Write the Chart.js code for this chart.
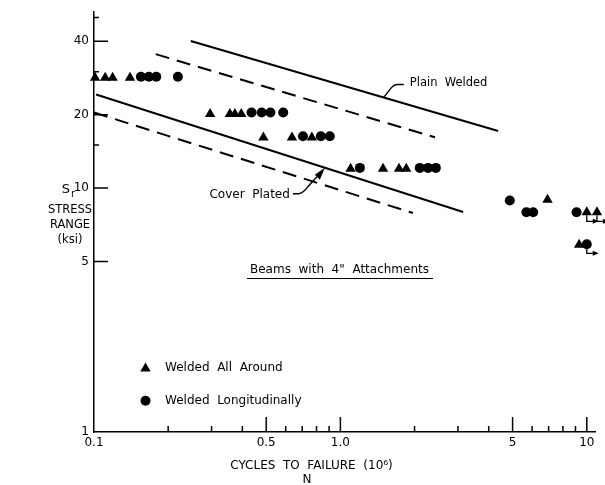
<!DOCTYPE html>
<html>
<head>
<meta charset="utf-8">
<script src="https://cdn.jsdelivr.net/npm/chart.js@4.4.0/dist/chart.umd.min.js"></script>
<style>
  html, body { margin: 0; background: #fff; }
</style>
</head>
<body>
<canvas id="c" width="605" height="485"></canvas>
<script>
// welded all around (triangles), N in 10^6 cycles, Sr in ksi
const aroundX = [0.101, 0.111, 0.119, 0.140, 0.296, 0.356, 0.373, 0.396, 0.487, 0.636, 0.766, 1.10, 1.49, 1.73, 1.85, 6.93, 10.0, 11.0, 9.31];
const aroundY = [28.3, 28.3, 28.3, 28.3, 20.1, 20.1, 20.1, 20.1, 16.1, 16.1, 16.1, 12.0, 12.0, 12.0, 12.0, 8.95, 7.95, 7.95, 5.85];
// welded longitudinally (circles)
const longX = [0.155, 0.167, 0.179, 0.219, 0.436, 0.479, 0.520, 0.586, 0.705, 0.833, 0.906, 1.20, 2.10, 2.27, 2.44, 4.87, 5.69, 6.06, 9.09, 10.0];
const longY = [28.6, 28.6, 28.6, 28.6, 20.4, 20.4, 20.4, 20.4, 16.3, 16.3, 16.3, 12.1, 12.1, 12.1, 12.1, 8.9, 7.96, 7.96, 7.96, 5.88];
// run-outs (no failure)
const runoutX = [10.0, 11.0, 10.0];
const runoutY = [7.95, 7.95, 5.88];

// design lines
const plainX = [0.247, 4.37], plainY = [40.1, 17.15];
const plainDashX = [0.178, 2.42], plainDashY = [35.4, 16.15];
const coverX = [0.102, 3.15], coverY = [24.2, 7.98];
const coverDashX = [0.1, 1.97], coverDashY = [20.4, 7.9];

// axes
const xTicks = [0.1, 0.5, 1, 5, 10];
const xTickLabels = ['0.1', '0.5', '1.0', '5', '10'];
const xMinor = [0.2, 0.3, 0.4, 0.6, 0.7, 0.8, 0.9, 2, 3, 4, 6, 7, 8, 9];
const yTicks = [1, 5, 10, 20, 40];
const yTickLabels = ['1', '5', '10', '20', '40'];
const yMinor = [15, 30, 50];

const pts = (xs, ys) => xs.map((x, i) => ({ x, y: ys[i] }));
const FONT = '"DejaVu Sans", sans-serif';

// y on a design line at x (straight in log-log)
function onLine(xs, ys, x) {
    const t = (Math.log(x) - Math.log(xs[0])) / (Math.log(xs[1]) - Math.log(xs[0]));
    return Math.exp(Math.log(ys[0]) + t * (Math.log(ys[1]) - Math.log(ys[0])));
}

const decor = {
    id: 'decor',
    afterDatasetsDraw(chart) {
        const { ctx, chartArea: a } = chart;
        const sx = chart.scales.x, sy = chart.scales.y;
        ctx.save();
        ctx.strokeStyle = '#000';
        ctx.fillStyle = '#000';

        // inward tick marks
        ctx.lineWidth = 1.5;
        ctx.beginPath();
        yTicks.slice(1).forEach(v => {
            const p = sy.getPixelForValue(v);
            ctx.moveTo(a.left, p); ctx.lineTo(a.left + 14, p);
        });
        yMinor.forEach(v => {
            const p = sy.getPixelForValue(v);
            ctx.moveTo(a.left, p); ctx.lineTo(a.left + 5, p);
        });
        xTicks.slice(1).forEach(v => {
            const p = sx.getPixelForValue(v);
            ctx.moveTo(p, a.bottom); ctx.lineTo(p, a.bottom - 15);
        });
        xMinor.forEach(v => {
            const p = sx.getPixelForValue(v);
            ctx.moveTo(p, a.bottom); ctx.lineTo(p, a.bottom - 6);
        });
        ctx.stroke();

        // run-out arrows
        ctx.lineWidth = 1.3;
        runoutX.forEach((v, i) => {
            const px = sx.getPixelForValue(v), py = sy.getPixelForValue(runoutY[i]);
            ctx.beginPath();
            ctx.moveTo(px, py + 3); ctx.lineTo(px, py + 9); ctx.lineTo(px + 8, py + 9);
            ctx.stroke();
            ctx.beginPath();
            ctx.moveTo(px + 12, py + 9); ctx.lineTo(px + 6, py + 6.5); ctx.lineTo(px + 6, py + 11.5);
            ctx.closePath(); ctx.fill();
        });

        // "Plain Welded" leader
        const pAx = sx.getPixelForValue(1.5), pAy = sy.getPixelForValue(onLine(plainX, plainY, 1.5));
        ctx.lineWidth = 1.4;
        ctx.beginPath();
        ctx.moveTo(pAx, pAy);
        ctx.lineTo(pAx + 7, pAy - 9);
        ctx.quadraticCurveTo(pAx + 10, pAy - 13, pAx + 14, pAy - 13);
        ctx.lineTo(pAx + 20, pAy - 13);
        ctx.stroke();
        ctx.font = '11.5px ' + FONT;
        ctx.textBaseline = 'middle';
        ctx.textAlign = 'left';
        ctx.fillText('Plain  Welded', pAx + 26, pAy - 14);

        // "Cover Plated" leader with arrow
        const cAx = sx.getPixelForValue(0.865), cAy = sy.getPixelForValue(onLine(coverX, coverY, 0.865));
        ctx.beginPath();
        ctx.moveTo(cAx - 32, cAy + 26);
        ctx.lineTo(cAx - 26, cAy + 26);
        ctx.quadraticCurveTo(cAx - 21, cAy + 25, cAx - 17, cAy + 19);
        ctx.lineTo(cAx - 8, cAy + 9);
        ctx.stroke();
        ctx.beginPath();
        ctx.moveTo(cAx, cAy);
        ctx.lineTo(cAx - 10, cAy + 7);
        ctx.lineTo(cAx - 5, cAy + 12);
        ctx.closePath(); ctx.fill();
        ctx.font = '12px ' + FONT;
        ctx.textAlign = 'right';
        ctx.fillText('Cover  Plated', cAx - 35, cAy + 27);

        // title, underlined
        ctx.textAlign = 'center';
        ctx.fillText('Beams  with  4"  Attachments', 339.5, 269.5);
        ctx.lineWidth = 1.2;
        ctx.beginPath(); ctx.moveTo(247, 278.5); ctx.lineTo(433, 278.5); ctx.stroke();

        // legend
        Chart.helpers.drawPoint(ctx, { pointStyle: 'triangle', radius: 6, rotation: 0, borderWidth: 0 }, 145.5, 368.5);
        Chart.helpers.drawPoint(ctx, { pointStyle: 'circle', radius: 5, rotation: 0, borderWidth: 0 }, 145.5, 400.7);
        ctx.textAlign = 'left';
        ctx.fillText('Welded  All  Around', 165, 367.5);
        ctx.fillText('Welded  Longitudinally', 165, 400.7);

        // axis titles
        ctx.textAlign = 'center';
        ctx.font = '11.5px ' + FONT;
        ctx.fillText('STRESS', 70, 210.5);
        ctx.fillText('RANGE', 70, 225.5);
        ctx.fillText('(ksi)', 70, 240.5);
        ctx.font = '13px ' + FONT;
        ctx.fillText('S', 66, 190);
        ctx.font = '10px ' + FONT;
        ctx.fillText('r', 73, 194);
        ctx.font = '12px ' + FONT;
        ctx.fillText('CYCLES  TO  FAILURE  (10\u2076)', 311.5, 466);
        ctx.fillText('N', 307, 480);
        ctx.restore();
    }
};

const lineDs = (xs, ys, dash) => ({
    type: 'line',
    data: pts(xs, ys),
    borderColor: '#000',
    borderWidth: 2,
    borderDash: dash,
    pointRadius: 0,
    fill: false,
});

new Chart(document.getElementById('c'), {
    type: 'scatter',
    data: {
        datasets: [
            {
                label: 'Welded All Around',
                data: pts(aroundX, aroundY),
                pointStyle: 'triangle',
                pointRadius: 6,
                backgroundColor: '#000',
                borderWidth: 0,
                clip: false,
            },
            {
                label: 'Welded Longitudinally',
                data: pts(longX, longY),
                pointStyle: 'circle',
                pointRadius: 5,
                backgroundColor: '#000',
                borderWidth: 0,
                clip: false,
            },
            lineDs(plainX, plainY, []),
            lineDs(plainDashX, plainDashY, [14, 8]),
            lineDs(coverX, coverY, []),
            lineDs(coverDashX, coverDashY, [14, 8]),
        ]
    },
    options: {
        responsive: false,
        animation: false,
        layout: { padding: { top: 10, right: 10, left: 0, bottom: 0 } },
        plugins: { legend: { display: false }, tooltip: { enabled: false } },
        scales: {
            x: {
                type: 'logarithmic',
                min: 0.1,
                max: 10.8,
                afterBuildTicks: s => { s.ticks = xTicks.map(v => ({ value: v })); },
                afterFit: s => { s.height = 53; },
                ticks: {
                    callback: (v, i) => xTickLabels[i],
                    color: '#000',
                    font: { family: FONT, size: 12 },
                    padding: 4,
                    autoSkip: false,
                    maxRotation: 0,
                },
                grid: { display: false, drawTicks: false },
                border: { display: true, color: '#000', width: 1.5 },
            },
            y: {
                type: 'logarithmic',
                min: 1,
                max: 52.6,
                afterBuildTicks: s => { s.ticks = yTicks.map(v => ({ value: v })); },
                afterFit: s => { s.width = 94; },
                ticks: {
                    callback: (v, i) => yTickLabels[i],
                    color: '#000',
                    font: { family: FONT, size: 12 },
                    padding: 5,
                    autoSkip: false,
                },
                grid: { display: false, drawTicks: false },
                border: { display: true, color: '#000', width: 1.5 },
            }
        }
    },
    plugins: [decor]
});
</script>
</body>
</html>
